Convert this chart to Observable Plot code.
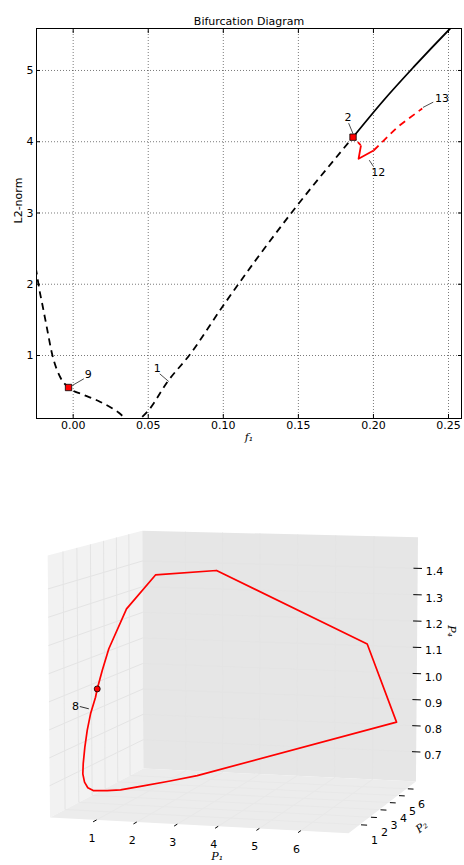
<!DOCTYPE html>
<html><head><meta charset="utf-8">
<script src="https://cdn.jsdelivr.net/npm/d3@7"></script>
<script src="https://cdn.jsdelivr.net/npm/@observablehq/plot@0.6"></script>
<style>
body{margin:0;background:#fff;}
#chart svg{display:block;}
</style></head><body><div id="chart"></div>
<script>
// ===== Bifurcation diagram: f1 against L2-norm =====
const xTicks = [0, 0.05, 0.10, 0.15, 0.20, 0.25];
const yTicks = [1, 2, 3, 4, 5];
const xDomain = [-0.02443, 0.25865];
const yDomain = [0.116, 5.589];

// branch 1, unstable part left of the fold (dashed)
const b1LeftF  = [-0.0262, -0.0244, -0.0224, -0.0204, -0.0178, -0.0138, -0.0085, -0.0031, 0.0062, 0.0162, 0.0262, 0.0302, 0.0348, 0.0400];
const b1LeftL2 = [2.40, 2.165, 1.912, 1.702, 1.421, 1.000, 0.691, 0.551, 0.453, 0.368, 0.256, 0.200, 0.116, 0.030];
// branch 1, unstable part right of the fold up to point 2 (dashed)
const b1RightF  = [0.0400, 0.0448, 0.0501, 0.0626, 0.0781, 0.0992, 0.1466, 0.1790, 0.1864];
const b1RightL2 = [0.030, 0.116, 0.228, 0.625, 1.024, 1.678, 3.035, 3.877, 4.064];
// branch 1, stable part (solid)
const b1StableF  = [0.1864, 0.2067, 0.2267, 0.2511, 0.2600];
const b1StableL2 = [4.064, 4.579, 5.046, 5.589, 5.780];
// branch 2 (periodic orbits) leaving point 2
const b2UnstableAF  = [0.1864, 0.1917];
const b2UnstableAL2 = [4.064, 3.948];
const b2StableF  = [0.1917, 0.1901, 0.2001];
const b2StableL2 = [3.948, 3.761, 3.877];
const b2UnstableBF  = [0.2001, 0.2159, 0.2325];
const b2UnstableBL2 = [3.877, 4.204, 4.467];
// special points drawn as squares
const specialF  = [-0.0031, 0.1864];
const specialL2 = [0.551, 4.064];
// numbered point labels
const labelText = ["1", "2", "9", "12", "13"];
const labelF    = [0.0626, 0.1864, -0.0031, 0.1952, 0.2325];
const labelL2   = [0.625, 4.064, 0.551, 3.820, 4.467];
// pixel offsets of each label's text and leader line
const labelLayout = [
  {text: [-10, -13.4], lead: [-7.4, -8.4, 1.6, -0.7]},
  {text: [-5, -20], lead: [-4.4, -14, 0, -3.4]},
  {text: [19.7, -13], lead: [3.7, -2, 15.3, -8.7]},
  {text: [12, 17.6], lead: [3, 5.6, 7, 11.6]},
  {text: [19.7, -10], lead: [0.7, -1, 11, -6.3]}
];

const W = 464, H1 = 460, H2 = 405;
const m = {top: 28, right: 3, bottom: 42, left: 36};
const sx = Plot.scale({x: {domain: xDomain, range: [m.left, W - m.right]}});
const sy = Plot.scale({y: {domain: yDomain, range: [H1 - m.bottom, m.top]}});
const zipXY = (fs, ls) => fs.map((f, i) => ({f, l2: ls[i]}));
const labels = labelText.map((t, i) => {
  const px = sx.apply(labelF[i]), py = sy.apply(labelL2[i]);
  const L = labelLayout[i];
  return {
    t,
    tx: sx.invert(px + L.text[0]), ty: sy.invert(py + L.text[1]),
    x1: sx.invert(px + L.lead[0]), y1: sy.invert(py + L.lead[1]),
    x2: sx.invert(px + L.lead[2]), y2: sy.invert(py + L.lead[3])
  };
});
const curveStyle = (stroke, dash) => ({x: "f", y: "l2", stroke, strokeWidth: 1.8, strokeDasharray: dash, strokeLinecap: "butt", clip: true});
const gridStyle = {stroke: "#000", strokeOpacity: 0.75, strokeWidth: 0.7, strokeDasharray: "1,2"};
const topChart = Plot.plot({
  width: W, height: H1,
  marginTop: m.top, marginRight: m.right, marginBottom: m.bottom, marginLeft: m.left,
  style: {fontFamily: "DejaVu Sans", fontSize: "11px", color: "#000", background: "#fff", overflow: "visible"},
  x: {domain: xDomain},
  y: {domain: yDomain},
  marks: [
    Plot.gridX(xTicks, gridStyle),
    Plot.gridY(yTicks, gridStyle),
    Plot.line(zipXY(b1LeftF, b1LeftL2), {...curveStyle("#000", "7,5"), curve: "monotone-x"}),
    Plot.line(zipXY(b1RightF, b1RightL2), {...curveStyle("#000", "7,5"), curve: "monotone-x"}),
    Plot.line(zipXY(b1StableF, b1StableL2), {...curveStyle("#000", null), curve: "monotone-x"}),
    Plot.line(zipXY(b2UnstableAF, b2UnstableAL2), curveStyle("#f00", "4,3")),
    Plot.line(zipXY(b2StableF, b2StableL2), curveStyle("#f00", null)),
    Plot.line(zipXY(b2UnstableBF, b2UnstableBL2), curveStyle("#f00", "7,5")),
    Plot.link(labels, {x1: "x1", y1: "y1", x2: "x2", y2: "y2", stroke: "#000", strokeWidth: 0.7}),
    Plot.text(labels, {x: "tx", y: "ty", text: "t", fontSize: 11}),
    Plot.dot(zipXY(specialF, specialL2), {x: "f", y: "l2", symbol: "square", r: 3.6, fill: "#f00", stroke: "#000", strokeWidth: 0.8}),
    Plot.frame({stroke: "#000", strokeWidth: 1}),
    Plot.axisX(xTicks, {tickSize: -4, tickFormat: () => "", stroke: "#000"}),
    Plot.axisX(xTicks, {anchor: "top", tickSize: -4, tickFormat: () => "", stroke: "#000"}),
    Plot.axisY(yTicks, {tickSize: -4, tickFormat: () => "", stroke: "#000"}),
    Plot.axisY(yTicks, {anchor: "right", tickSize: -4, tickFormat: () => "", stroke: "#000"}),
    Plot.axisX(xTicks, {tickSize: 0, tickPadding: 3, tickFormat: d3.format(".2f"), fontSize: 11, label: null}),
    Plot.axisY(yTicks, {tickSize: 0, tickPadding: 3, tickFormat: d3.format("d"), fontSize: 11, label: null}),
    Plot.text(["Bifurcation Diagram"], {frameAnchor: "top", dy: -11, fontSize: 11}),
    Plot.text(["L2-norm"], {frameAnchor: "left", dx: -18, rotate: -90, fontSize: 11}),
    Plot.text(["f₁"], {frameAnchor: "bottom", dy: 22, fontSize: 11, fontFamily: "DejaVu Serif", fontStyle: "italic"})
  ]
});

// ===== Periodic orbit in (P1, P2, P4) space =====
const orbitP1 = [0.670, 0.731, 0.799, 1.086, 1.631, 2.937, 6.343, 6.803, 2.739, 2.173, 1.583, 1.176, 0.906, 0.620, 0.519, 0.454, 0.430, 0.442, 0.468, 0.514, 0.566, 0.660, 0.670];
const orbitP2 = [1.0, 1.2, 1.5, 2.0, 2.6, 3.4, 5.0, 6.3, 2.4, 1.9, 1.5, 1.2, 1.0, 0.8, 0.7, 0.65, 0.6, 0.6, 0.65, 0.7, 0.8, 0.9, 1.0];
const orbitP4 = [1.029, 1.092, 1.165, 1.302, 1.418, 1.428, 1.147, 0.830, 0.695, 0.683, 0.670, 0.662, 0.663, 0.666, 0.678, 0.699, 0.730, 0.767, 0.825, 0.885, 0.943, 1.001, 1.029];
const orbitMarker = 0;        // index of the marked starting point
const orbitLabel = "8";
const orbitLabelAt = 20;      // orbit index the label points to
const p1Ticks = [1, 2, 3, 4, 5, 6];
const p2Ticks = [1, 2, 3, 4, 5, 6];
const p4Ticks = [0.7, 0.8, 0.9, 1.0, 1.1, 1.2, 1.3, 1.4];
const p1Lim = [-0.169, 7.139];
const p2Lim = [-0.069, 7.106];
const p4Lim = [0.586, 1.5175];

// camera: azimuth/elevation in degrees, half-extents of the box, perspective distance
const view = {azim: 15.78, elev: 7.61, ay: 1.0, az: 0.856, scale: 148.94, dist: 19.22, cx: 238.95, cy: 672.68 - H1};
const ca = Math.cos(view.azim * Math.PI / 180), sa = Math.sin(view.azim * Math.PI / 180);
const ce = Math.cos(view.elev * Math.PI / 180), se = Math.sin(view.elev * Math.PI / 180);
const nrm = (v, [a, b]) => (v - a) / (b - a) * 2 - 1;
function projectBox(X, Y, Z) {
  const rx = X * ca + Y * sa;
  const ry = (-X * sa + Y * ca) * se + Z * ce;
  const d = (X * sa - Y * ca) * ce + Z * se;
  const p = view.dist / (view.dist - d);
  return {x: view.cx + view.scale * p * rx, y: view.cy - view.scale * p * ry};
}
const B = {x: p => nrm(p, p1Lim), y: p => nrm(p, p2Lim) * view.ay, z: p => nrm(p, p4Lim) * view.az};
const project = (p1, p2, p4) => projectBox(B.x(p1), B.y(p2), B.z(p4));
const X0 = -1, X1 = 1, Y0 = -view.ay, Y1 = view.ay, Z0 = -view.az, Z1 = view.az;

const pane = pts => pts.map(([X, Y, Z]) => projectBox(X, Y, Z));
const leftPane  = pane([[X0, Y0, Z0], [X0, Y1, Z0], [X0, Y1, Z1], [X0, Y0, Z1]]);
const backPane  = pane([[X0, Y1, Z0], [X1, Y1, Z0], [X1, Y1, Z1], [X0, Y1, Z1]]);
const floorPane = pane([[X0, Y0, Z0], [X1, Y0, Z0], [X1, Y1, Z0], [X0, Y1, Z0]]);

const seg = (a, b) => { const p = projectBox(...a), q = projectBox(...b); return {x1: p.x, y1: p.y, x2: q.x, y2: q.y}; };
// grid lines lying on the side pane and back pane
const wallGrid = [
  ...p1Ticks.map(t => seg([B.x(t), Y1, Z0], [B.x(t), Y1, Z1])),
  ...p2Ticks.map(t => seg([X0, B.y(t), Z0], [X0, B.y(t), Z1])),
  ...p4Ticks.flatMap(t => [seg([X0, Y0, B.z(t)], [X0, Y1, B.z(t)]), seg([X0, Y1, B.z(t)], [X1, Y1, B.z(t)])])
];
// grid lines lying on the floor
const floorGrid = [
  ...p1Ticks.map(t => seg([B.x(t), Y0, Z0], [B.x(t), Y1, Z0])),
  ...p2Ticks.map(t => seg([X0, B.y(t), Z0], [X1, B.y(t), Z0]))
];
const tickLines = [
  ...p1Ticks.map(t => seg([B.x(t), Y0, Z0], [B.x(t), Y0 - 0.07, Z0])),
  ...p2Ticks.map(t => seg([X1 + 0.01, B.y(t), Z0], [X1 + 0.05, B.y(t), Z0])),
  ...p4Ticks.map(t => seg([X1 - 0.03, Y1, B.z(t)], [X1 + 0.03, Y1, B.z(t)]))
];
const p1Labels = p1Ticks.map(t => ({t, ...projectBox(B.x(t), Y0, Z0)}));
const p2Labels = p2Ticks.map(t => ({t, ...projectBox(X1, B.y(t), Z0)}));
const p4Labels = p4Ticks.map(t => ({t, ...projectBox(X1, Y1, B.z(t))}));
const orbit = orbitP1.map((p1, i) => project(p1, orbitP2[i], orbitP4[i]));
const marker = [orbit[orbitMarker]];
const lab = orbit[orbitLabelAt];
const labelPt = [{t: orbitLabel, x: lab.x - 15, y: lab.y - 7.3, x1: lab.x - 10.7, y1: lab.y - 7.3, x2: lab.x - 1.7, y2: lab.y - 5}];
const axisName = (txt, at, dx, dy, rotate) => Plot.text([{t: txt, ...at}], {x: "x", y: "y", text: "t", dx, dy, rotate, fontSize: 11, fontFamily: "DejaVu Serif", fontStyle: "italic"});

const bottomChart = Plot.plot({
  width: W, height: H2, margin: 0, axis: null,
  x: {type: "identity"}, y: {type: "identity"},
  style: {fontFamily: "DejaVu Sans", fontSize: "11px", color: "#000", background: "#fff", overflow: "visible"},
  marks: [
    Plot.line(leftPane, {x: "x", y: "y", fill: "#f2f2f2", stroke: "none"}),
    Plot.line(backPane, {x: "x", y: "y", fill: "#e6e6e6", stroke: "none"}),
    Plot.line(floorPane, {x: "x", y: "y", fill: "#ececec", stroke: "none"}),
    Plot.link(wallGrid, {x1: "x1", y1: "y1", x2: "x2", y2: "y2", stroke: "#e4e4e4", strokeWidth: 1}),
    Plot.link(floorGrid, {x1: "x1", y1: "y1", x2: "x2", y2: "y2", stroke: "#e8e8e8", strokeWidth: 1}),
    Plot.line(orbit, {x: "x", y: "y", stroke: "#f00", strokeWidth: 1.7}),
    Plot.dot(marker, {x: "x", y: "y", r: 3, fill: "#f00", stroke: "#000", strokeWidth: 0.8}),
    Plot.link(labelPt, {x1: "x1", y1: "y1", x2: "x2", y2: "y2", stroke: "#000", strokeWidth: 0.8}),
    Plot.text(labelPt, {x: "x", y: "y", text: "t", fontSize: 11}),
    Plot.link(tickLines, {x1: "x1", y1: "y1", x2: "x2", y2: "y2", stroke: "#000", strokeWidth: 1}),
    Plot.text(p1Labels, {x: "x", y: "y", text: "t", dx: -4.5, dy: 18.5, fontSize: 11}),
    Plot.text(p2Labels, {x: "x", y: "y", text: "t", dx: 15, dy: 15.5, fontSize: 11}),
    Plot.text(p4Labels, {x: "x", y: "y", text: d => d.t.toFixed(1), dx: 8, dy: 3.5, textAnchor: "start", fontSize: 11}),
    axisName("P₁", project(4, p2Lim[0], p4Lim[0]), -1, 30, 0),
    axisName("P₂", project(p1Lim[1], 3.5, p4Lim[0]), 38, 21, -37),
    axisName("P₄", project(p1Lim[1], p2Lim[1], 1.2), 34, 10, 90)
  ]
});

document.getElementById("chart").append(topChart, bottomChart);
</script></body></html>
